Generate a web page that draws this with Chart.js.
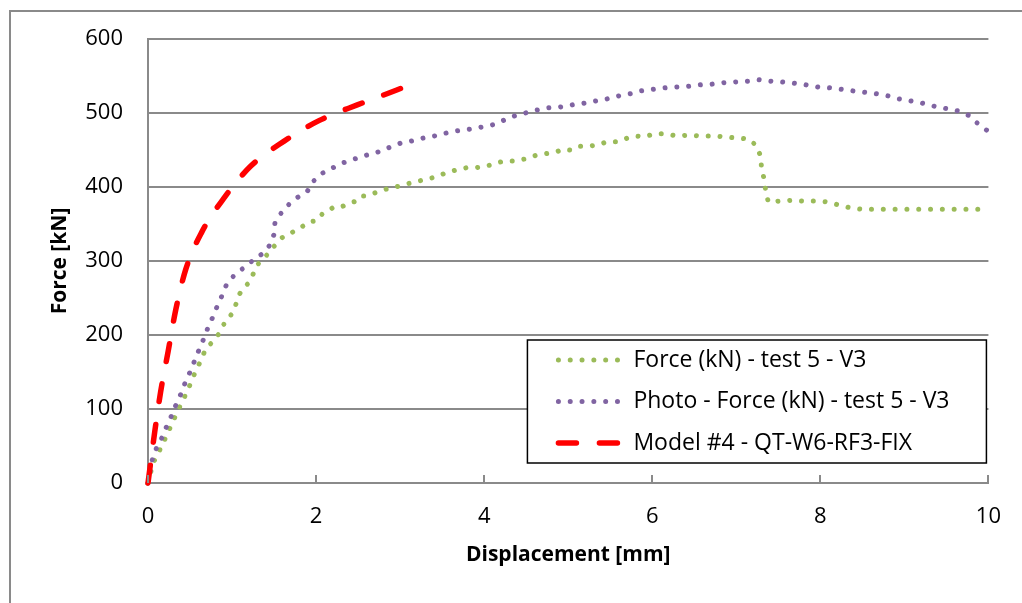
<!DOCTYPE html>
<html>
<head>
<meta charset="utf-8">
<script src="https://cdn.jsdelivr.net/npm/chart.js@4.4.1/dist/chart.umd.min.js"></script>
<style>
    html, body { margin: 0; padding: 0; background: #fff; }
    #wrap { position: relative; width: 1022px; height: 603px; overflow: hidden; }
    #frame { position: absolute; left: 9px; top: 10px; width: 1100px; height: 700px;
             border-left: 2px solid #8a8a8a; border-top: 2px solid #8a8a8a; box-sizing: border-box; }
    #chart { position: absolute; left: 0; top: 0; }
</style>
</head>
<body>
<div id="wrap">
    <div id="frame"></div>
    <canvas id="chart" width="1022" height="603"></canvas>
</div>
<script>
// --- 数据 ---
const yTicks = [0, 100, 200, 300, 400, 500, 600];
const xTicks = [0, 2, 4, 6, 8, 10];

const seriesNames = [
    'Force (kN) - test 5 - V3',
    'Photo - Force (kN) - test 5 - V3',
    'Model #4 - QT-W6-RF3-FIX'
];

// Force (kN) - test 5 - V3
const testDisp = [0, 0.06, 0.12, 0.18, 0.24, 0.30, 0.36, 0.42, 0.48, 0.53,
    0.59, 0.64, 0.69, 0.78, 0.84, 0.90, 0.96, 1.02, 1.05, 1.08,
    1.15, 1.22, 1.26, 1.31, 1.39, 1.46, 1.53, 1.59, 1.65, 1.72,
    1.83, 1.91, 2.00, 2.07, 2.15, 2.21, 2.30, 2.39, 2.48, 2.54,
    2.60, 2.70, 2.80, 2.89, 2.98, 3.11, 3.22, 3.33, 3.44, 3.56,
    3.67, 3.79, 3.90, 4.02, 4.14, 4.23, 4.35, 4.49, 4.62, 4.73,
    4.85, 4.94, 5.03, 5.12, 5.24, 5.36, 5.46, 5.58, 5.70, 5.80,
    5.91, 6.03, 6.16, 6.29, 6.44, 6.58, 6.71, 6.86, 7.00, 7.14,
    7.23, 7.29, 7.30, 7.33, 7.35, 7.38, 7.52, 7.66, 7.79, 7.93,
    8.08, 8.21, 8.35, 8.49, 8.70, 9.00, 9.30, 9.60, 10.0];
const testForce = [0, 27, 40, 54, 69, 84, 99, 113, 127, 142,
    156, 169, 182, 192, 201, 214, 223, 232, 243, 254,
    265, 273, 285, 296, 305, 314, 324, 331, 336, 339,
    346, 353, 354, 363, 368, 373, 373, 378, 381, 388,
    388, 392, 396, 399, 401, 405, 408, 411, 414, 420,
    423, 426, 426, 428, 432, 435, 435, 438, 443, 445,
    447, 451, 450, 455, 455, 457, 461, 461, 466, 469,
    468, 472, 472, 469, 470, 469, 469, 468, 466, 465,
    457, 442, 426, 411, 395, 380, 381, 382, 381, 381,
    380, 376, 372, 370, 370, 370, 370, 370, 370];

// Photo - Force (kN) - test 5 - V3
const photoDisp = [0, 0.05, 0.10, 0.17, 0.22, 0.28, 0.33, 0.39, 0.44, 0.50,
    0.55, 0.60, 0.66, 0.71, 0.77, 0.82, 0.88, 0.93, 1.02, 1.13,
    1.24, 1.35, 1.44, 1.50, 1.51, 1.58, 1.68, 1.78, 1.90, 1.97,
    2.08, 2.20, 2.33, 2.46, 2.60, 2.73, 2.86, 3.00, 3.13, 3.27,
    3.41, 3.55, 3.68, 3.82, 3.97, 4.10, 4.23, 4.36, 4.49, 4.63,
    4.76, 4.90, 5.05, 5.18, 5.32, 5.46, 5.60, 5.74, 5.87, 6.00,
    6.15, 6.28, 6.42, 6.57, 6.71, 6.85, 7.00, 7.14, 7.27, 7.41,
    7.55, 7.70, 7.83, 7.97, 8.11, 8.25, 8.38, 8.53, 8.67, 8.81,
    8.94, 9.09, 9.22, 9.36, 9.50, 9.63, 9.76, 9.87, 10.0];
const photoForce = [0, 31, 47, 62, 76, 91, 105, 120, 135, 150,
    164, 178, 194, 209, 224, 238, 253, 267, 280, 290,
    300, 309, 320, 336, 351, 364, 377, 386, 395, 408,
    419, 426, 433, 438, 443, 447, 453, 459, 462, 466,
    469, 473, 476, 478, 481, 484, 490, 496, 500, 504,
    507, 508, 511, 513, 516, 519, 523, 526, 530, 532,
    534, 535, 536, 538, 539, 541, 542, 543, 545, 543,
    542, 540, 538, 535, 534, 532, 530, 528, 526, 523,
    519, 516, 513, 509, 506, 503, 497, 486, 475];

// Model #4 - QT-W6-RF3-FIX
const modelDisp = [0, 0.08, 0.15, 0.24, 0.33, 0.45, 0.64, 0.91, 1.22, 1.62, 2.04, 2.49, 2.96, 3.11];
const modelForce = [0, 69, 123, 178, 234, 289, 339, 386, 428, 462, 490, 511, 531, 538];

const FONT = "'Open Sans', 'DejaVu Sans', sans-serif";
const GRID_GRAY = '#8a8a8a';

function toPoints(xs, ys) {
    return xs.map((x, i) => ({ x: x, y: ys[i] }));
}

// --- 图例（绘于绘图区内右下）---
const boxLegend = {
    id: 'boxLegend',
    afterDatasetsDraw(chart) {
        const ctx = chart.ctx;
        const area = chart.chartArea;
        const w = 459, h = 123;
        const x0 = area.right - w - 2;
        const y0 = area.bottom - h - 20;
        ctx.save();
        ctx.fillStyle = '#fff';
        ctx.fillRect(x0, y0, w, h);
        ctx.strokeStyle = '#000';
        ctx.lineWidth = 1.5;
        ctx.strokeRect(x0, y0, w, h);
        chart.data.datasets.forEach((ds, row) => {
            const cy = y0 + 20 + row * 41.5;
            ctx.beginPath();
            ctx.strokeStyle = ds.borderColor;
            ctx.lineWidth = ds.borderWidth;
            ctx.lineCap = ds.borderCapStyle;
            ctx.setLineDash(ds.borderDash);
            ctx.moveTo(x0 + 31, cy);
            ctx.lineTo(x0 + 92, cy);
            ctx.stroke();
            ctx.setLineDash([]);
            ctx.fillStyle = '#000';
            ctx.font = '23px ' + FONT;
            ctx.textBaseline = 'middle';
            ctx.textAlign = 'left';
            ctx.fillText(ds.label, x0 + 106, cy);
        });
        ctx.restore();
    }
};

// --- x 轴内侧刻度线 ---
const innerTicks = {
    id: 'innerTicks',
    afterDraw(chart) {
        const ctx = chart.ctx;
        const xs = chart.scales.x;
        const bottom = chart.chartArea.bottom;
        ctx.save();
        ctx.strokeStyle = GRID_GRAY;
        ctx.lineWidth = 2;
        xTicks.forEach(v => {
            const px = Math.round(xs.getPixelForValue(v));
            ctx.beginPath();
            ctx.moveTo(px, bottom);
            ctx.lineTo(px, bottom - 8);
            ctx.stroke();
        });
        ctx.restore();
    }
};

function initChart() {
    const ctx = document.getElementById('chart').getContext('2d');
    return new Chart(ctx, {
        type: 'line',
        data: {
            datasets: [{
                label: seriesNames[0],
                data: toPoints(testDisp, testForce),
                borderColor: '#9bbb59',
                borderWidth: 5,
                borderDash: [0.01, 11.8],
                borderCapStyle: 'round',
                pointRadius: 0,
                tension: 0,
                order: 2
            }, {
                label: seriesNames[1],
                data: toPoints(photoDisp, photoForce),
                borderColor: '#8064a2',
                borderWidth: 5,
                borderDash: [0.01, 11.8],
                borderCapStyle: 'round',
                pointRadius: 0,
                tension: 0,
                order: 1
            }, {
                label: seriesNames[2],
                data: toPoints(modelDisp, modelForce),
                borderColor: '#ff0000',
                borderWidth: 5.5,
                borderDash: [18, 23],
                borderCapStyle: 'round',
                pointRadius: 0,
                cubicInterpolationMode: 'monotone',
                order: 0
            }]
        },
        options: {
            responsive: false,
            animation: false,
            clip: false,
            layout: { padding: { left: 0, top: 39, right: 33, bottom: 0 } },
            scales: {
                x: {
                    type: 'linear',
                    min: 0,
                    max: 10,
                    afterBuildTicks: s => { s.ticks = xTicks.map(v => ({ value: v })); },
                    afterFit: s => { s.height = 120; },
                    grid: { drawOnChartArea: false, drawTicks: false },
                    border: { display: true, color: GRID_GRAY, width: 2 },
                    ticks: { color: '#000', font: { family: FONT, size: 22 }, padding: 21, maxRotation: 0 },
                    title: {
                        display: true,
                        text: 'Displacement [mm]',
                        color: '#000',
                        font: { family: FONT, size: 21, weight: 'bold' },
                        padding: { top: 0, bottom: 35 }
                    }
                },
                y: {
                    type: 'linear',
                    min: 0,
                    max: 600,
                    afterBuildTicks: s => { s.ticks = yTicks.map(v => ({ value: v })); },
                    afterFit: s => { s.width = 148; },
                    grid: { color: GRID_GRAY, lineWidth: 2, drawTicks: false },
                    border: { display: true, color: GRID_GRAY, width: 2 },
                    ticks: { color: '#000', font: { family: FONT, size: 22 }, padding: 25 },
                    title: {
                        display: true,
                        text: 'Force [kN]',
                        color: '#000',
                        font: { family: FONT, size: 21, weight: 'bold' },
                        padding: { top: 47, bottom: 0 }
                    }
                }
            },
            plugins: {
                legend: { display: false },
                tooltip: { enabled: false }
            }
        },
        plugins: [boxLegend, innerTicks]
    });
}

document.addEventListener('DOMContentLoaded', () => {
    initChart();
});
</script>
</body>
</html>
